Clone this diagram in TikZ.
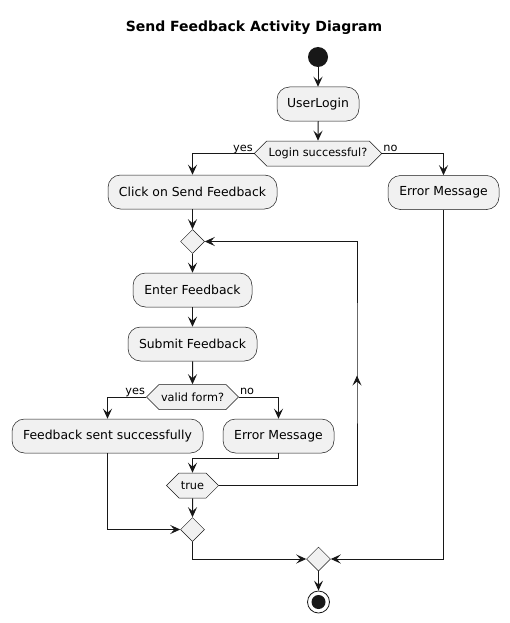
\documentclass[tikz,border=0pt]{standalone}
\usepackage{fontspec}
\setmainfont{DejaVu Sans}
\usetikzlibrary{arrows.meta,shapes.geometric,shapes.symbols,decorations.markings}
\definecolor{actfill}{HTML}{F1F1F1}
\definecolor{ink}{HTML}{181818}
\begin{document}
\begin{tikzpicture}[x=1pt,y=-1pt,
  every node/.style={font=\fontsize{12.4}{14}\selectfont},
  action/.style={draw=ink, line width=0.5pt, fill=actfill, rounded corners=12.5pt,
    minimum height=34pt, inner xsep=10pt, inner ysep=0pt, minimum width=#1},
  action/.default=10pt,
  decide/.style={signal, signal to=west and east, signal pointer angle=90,
    draw=ink, line width=0.5pt, fill=actfill, minimum height=25pt,
    inner xsep=2pt, inner ysep=0pt, font=\fontsize{11.3}{13}\selectfont,
    minimum width=#1},
  decide/.default=10pt,
  merge/.style={diamond, draw=ink, line width=0.5pt, fill=actfill,
    minimum width=24pt, minimum height=24pt, inner sep=0pt},
  tip/.tip={Stealth[length=10pt,width=9pt,inset=4pt]},
  flow/.style={draw=ink, line width=1pt, -tip},
  midarrow/.style={postaction={decorate}, decoration={markings,
    mark=at position #1 with {\arrow{tip}}}},
  guard/.style={font=\fontsize{11.3}{13}\selectfont, inner sep=1pt}
]
% page
\path[fill=white, use as bounding box] (0,0) rectangle (509,623);

% title
\node[font=\bfseries\fontsize{14}{16}\selectfont] (title) at (254,28) {Send Feedback Activity Diagram};

% activities
\node[circle, fill=ink, minimum size=20pt, inner sep=0pt] (start) at (318,57) {};
\node[action=82pt] (login) at (318,104) {UserLogin};
\node[decide=126pt] (ok) at (318,153.5) {Login successful?};
\node[action=169pt] (click) at (192.5,192) {Click on Send Feedback};
\node[action=111pt] (err1) at (443.5,192.5) {Error Message};
\node[merge] (loop) at (192.5,241.5) {};
\node[action=119pt] (enter) at (192.5,290) {Enter Feedback};
\node[action=129pt] (submit) at (192.5,344) {Submit Feedback};
\node[decide=87pt] (valid) at (192.5,397) {valid form?};
\node[action=191pt] (sent) at (107.5,436) {Feedback sent successfully};
\node[action=111pt] (err2) at (278.5,436) {Error Message};
\node[decide=48pt] (again) at (192.5,485.5) {true};
\node[merge] (join) at (192.5,529.5) {};
\node[merge] (final) at (318.5,559) {};
\node[circle, draw=ink, line width=0.8pt, fill=white, minimum size=22pt, inner sep=0pt] (stop) at (318.5,602) {};
\node[circle, fill=ink, minimum size=14pt, inner sep=0pt] (stopdot) at (stop.center) {};
\coordinate (rail) at (357,363);

% guards
\node[guard, anchor=base east] (gyes1) at ([yshift=2.5pt]ok.west) {yes};
\node[guard, anchor=base west] (gno1) at ([yshift=2.5pt]ok.east) {no};
\node[guard, anchor=base east] (gyes2) at ([yshift=2.5pt]valid.west) {yes};
\node[guard, anchor=base west] (gno2) at ([yshift=2.5pt]valid.east) {no};

% flows
\draw[flow] (start) -- (login);
\draw[flow] (login) -- (ok);
\draw[flow] (ok.west) -| (click.north);
\draw[flow] (ok.east) -| (err1.north);
\draw[flow] (click) -- (loop);
\draw[flow] (loop) -- (enter);
\draw[flow] (enter) -- (submit);
\draw[flow] (submit) -- (valid);
\draw[flow] (valid.west) -| (sent.north);
\draw[flow] (valid.east) -| (err2.north);
\draw[flow] (err2.south) -- ++(0,5) -| (again.north);
\draw[flow, midarrow=248pt] (again.east) -| (rail) |- (loop.east);
\draw[flow] (again) -- (join);
\draw[flow] (sent.south) |- (join.west);
\draw[flow] (join.south) |- (final.west);
\draw[flow] (err1.south) |- (final.east);
\draw[flow] (final) -- (stop);
\end{tikzpicture}
\end{document}
